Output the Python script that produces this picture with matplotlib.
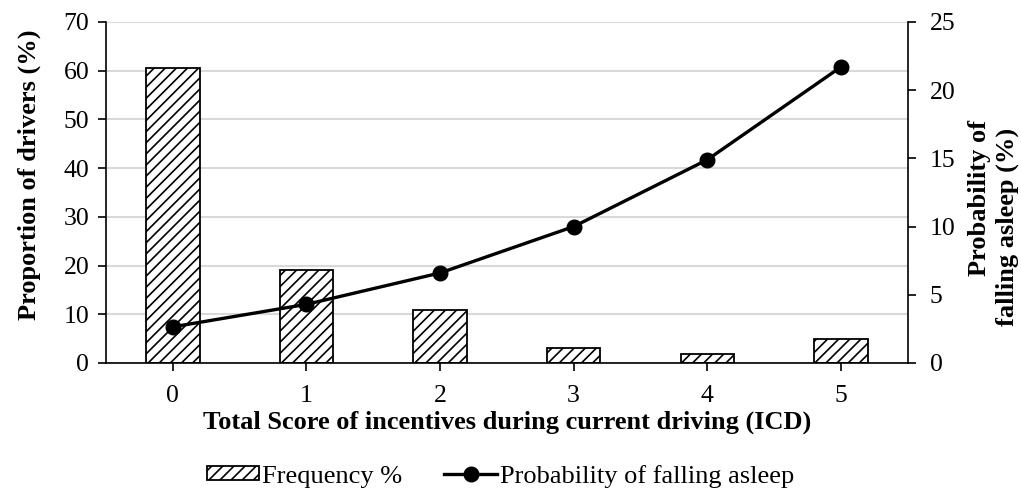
import matplotlib
matplotlib.use("Agg")
import matplotlib.pyplot as plt
import numpy as np

categories = ["0", "1", "2", "3", "4", "5"]
frequency = [60.6, 19.1, 10.8, 3.0, 1.9, 4.9]
probability = [2.65, 4.3, 6.6, 10.0, 14.9, 21.7]
left_ticks = [0, 10, 20, 30, 40, 50, 60, 70]
right_ticks = [0, 5, 10, 15, 20, 25]

plt.rcParams['font.family'] = ['Liberation Serif', 'DejaVu Serif']
plt.rcParams['hatch.linewidth'] = 1.2

fig = plt.figure(figsize=(10.21, 4.93), dpi=100)
ax = fig.add_axes([0.1038, 0.2637, 0.889 - 0.1038, 0.9554 - 0.2637])
x = np.arange(len(categories))

ax.bar(x, frequency, width=0.4, facecolor='white', edgecolor='black',
       hatch='///', linewidth=1.3, zorder=2, label='Frequency %')
ax.set_xlim(-0.5, len(categories) - 0.5)
ax.set_ylim(0, 70)
ax.set_yticks(left_ticks)
ax.yaxis.grid(True, color='#d9d9d9', linewidth=1.5, zorder=0)
ax.set_axisbelow(True)
ax.set_xticks(x)
ax.set_xticklabels(categories)
ax.tick_params(axis='both', labelsize=18.5, direction='out', length=6, width=1.2, colors='black')
ax.tick_params(axis='x', pad=10)
ax.tick_params(axis='y', pad=6)
for s in ['top', 'right']:
    ax.spines[s].set_visible(False)
for s in ['left', 'bottom']:
    ax.spines[s].set_linewidth(1.2)
ax.set_ylabel('Proportion of drivers (%)', fontsize=19, fontweight='bold')
ax.yaxis.set_label_coords(-0.081, 0.551)
ax.set_xlabel('Total Score of incentives during current driving (ICD)', fontsize=19,
              fontweight='bold', labelpad=2.5)

ax2 = ax.twinx()
ax2.plot(x, probability, color='black', linewidth=2.4, marker='o', markersize=10.5,
         label='Probability of falling asleep', zorder=3)
ax2.set_ylim(0, 25)
ax2.set_yticks(right_ticks)
ax2.tick_params(axis='y', labelsize=18.5, direction='out', length=6, width=1.2, pad=10)
for s in ['top', 'left', 'bottom']:
    ax2.spines[s].set_visible(False)
ax2.spines['right'].set_linewidth(1.2)
ax2.text(1.090, 0.484, 'Probability of', transform=ax2.transAxes, rotation=90,
         ha='center', va='center', fontsize=19, fontweight='bold')
ax2.text(1.124, 0.40, 'falling asleep (%)', transform=ax2.transAxes, rotation=90,
         ha='center', va='center', fontsize=19, fontweight='bold')

h1, l1 = ax.get_legend_handles_labels()
h2, l2 = ax2.get_legend_handles_labels()
fig.legend(h1 + h2, l1 + l2, loc='center', bbox_to_anchor=(0.49, 0.034), ncol=2,
           frameon=False, fontsize=19, handlelength=2.0, handletextpad=0.1,
           columnspacing=1.6, handleheight=0.45, borderaxespad=0, borderpad=0)

fig.savefig('out.png', dpi=100)
